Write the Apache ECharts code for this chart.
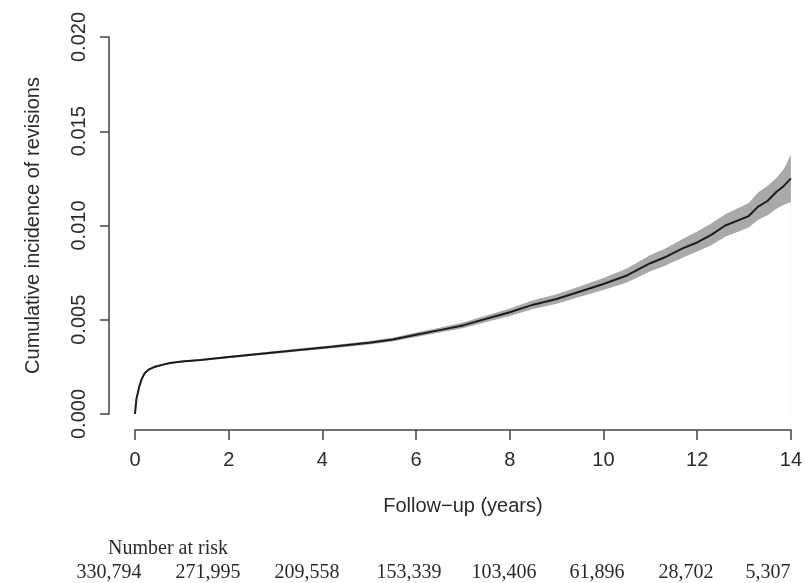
<!DOCTYPE html>
<html>
<head>
<meta charset="utf-8">
<script src="https://cdn.jsdelivr.net/npm/echarts@6/dist/echarts.min.js"></script>
<style>
  html, body { margin: 0; padding: 0; background: #fff; }
  #chart { width: 805px; height: 583px; }
</style>
</head>
<body>
<div id="chart"></div>
<script>
// follow-up time (years) and cumulative incidence
const years = [0, 0.03, 0.09, 0.15, 0.21, 0.3, 0.43, 0.6, 0.75, 1.0, 1.4, 2.0, 2.8, 3.5, 4.2, 5.0, 5.5, 6.0, 6.5, 7.0,
  7.5, 8.0, 8.5, 9.0, 9.5, 10.0, 10.5, 11.0, 11.3, 11.7, 12.0, 12.3, 12.6, 12.9, 13.1, 13.3, 13.5, 13.7, 13.85, 14.0];
const incidence = [0, 0.0008, 0.00145, 0.0019, 0.00218, 0.00237, 0.00251, 0.00262, 0.00271, 0.00278, 0.00287, 0.00302,
  0.00322, 0.0034, 0.00357, 0.00378, 0.00395, 0.0042, 0.00445, 0.0047, 0.00505, 0.0054, 0.0058, 0.0061, 0.0065, 0.0069,
  0.00735, 0.0080, 0.0083, 0.0088, 0.0091, 0.0095, 0.0100, 0.0103, 0.0105, 0.0110, 0.0113, 0.0118, 0.0121, 0.0125];
// confidence band
const lowerCI = [0, 0.0007, 0.0014, 0.00185, 0.00213, 0.00232, 0.00246, 0.00257, 0.00266, 0.00273, 0.00282, 0.00296,
  0.00315, 0.00333, 0.00349, 0.00369, 0.00385, 0.00408, 0.00432, 0.00455, 0.00488, 0.0052, 0.00557, 0.00585, 0.00622,
  0.00658, 0.00698, 0.00757, 0.00785, 0.0083, 0.00862, 0.00895, 0.0094, 0.0097, 0.0099, 0.0103, 0.01055, 0.0109, 0.0111, 0.01125];
const upperCI = [0, 0.0009, 0.0015, 0.00195, 0.00223, 0.00242, 0.00256, 0.00267, 0.00276, 0.00283, 0.00292, 0.00308,
  0.00329, 0.00347, 0.00365, 0.00387, 0.00405, 0.00432, 0.00458, 0.00485, 0.00522, 0.0056, 0.00603, 0.00635, 0.00678,
  0.00722, 0.00772, 0.00843, 0.00875, 0.0093, 0.00968, 0.0101, 0.0106, 0.01095, 0.0112, 0.01175, 0.0121, 0.01255, 0.013, 0.01375];

const riskCounts = ['330,794', '271,995', '209,558', '153,339', '103,406', '61,896', '28,702', '5,307'];
const riskX = [109, 208, 307, 409, 504, 597, 686, 768];

const textColor = '#2a2a2a';
const axisColor = '#444';

const chart = echarts.init(document.getElementById('chart'));

function label(txt, x, y) {
    return {
        type: 'text',
        x: x,
        y: y,
        style: {
            text: txt,
            align: 'center',
            verticalAlign: 'middle',
            fill: textColor,
            font: '20px "Liberation Serif"'
        }
    };
}

chart.setOption({
    backgroundColor: '#fff',
    animation: false,
    grid: { left: 135, right: 14, top: 37, bottom: 169 },
    xAxis: {
        type: 'value',
        min: 0,
        max: 14,
        interval: 2,
        offset: 16,
        name: 'Follow\u2212up (years)',
        nameLocation: 'middle',
        nameGap: 66,
        nameTextStyle: { color: textColor, fontSize: 20, fontFamily: 'Liberation Sans' },
        axisLine: { show: true, onZero: false, lineStyle: { color: axisColor, width: 1.5 } },
        axisTick: { show: true, length: 10, lineStyle: { color: axisColor, width: 1.5 } },
        axisLabel: { color: textColor, fontSize: 20, fontFamily: 'Liberation Sans', margin: 20 },
        splitLine: { show: false }
    },
    yAxis: {
        type: 'value',
        min: 0,
        max: 0.02,
        interval: 0.005,
        offset: 26,
        name: 'Cumulative incidence of revisions',
        nameLocation: 'middle',
        nameGap: 66,
        nameTextStyle: { color: textColor, fontSize: 20, fontFamily: 'Liberation Sans' },
        axisLine: { show: true, onZero: false, lineStyle: { color: axisColor, width: 1.5 } },
        axisTick: { show: true, length: 9, lineStyle: { color: axisColor, width: 1.5 } },
        axisLabel: {
            color: textColor, fontSize: 20, fontFamily: 'Liberation Sans', margin: 20, rotate: 90,
            formatter: v => v.toFixed(3)
        },
        splitLine: { show: false }
    },
    graphic: [label('Number at risk', 168, 549)]
        .concat(riskCounts.map((txt, i) => label(txt, riskX[i], 573))),
    series: [
        {
            // grey fill under the upper bound
            name: 'upper',
            type: 'line',
            data: years.map((t, i) => [t, upperCI[i]]),
            symbol: 'none',
            lineStyle: { width: 0, opacity: 0 },
            areaStyle: { color: '#a9a9a9', opacity: 1, origin: 'start' },
            silent: true,
            z: 1
        },
        {
            // white fill under the lower bound cuts the band out
            name: 'lower',
            type: 'line',
            data: years.map((t, i) => [t, lowerCI[i]]),
            symbol: 'none',
            lineStyle: { width: 0, opacity: 0 },
            areaStyle: { color: '#fff', opacity: 1, origin: 'start' },
            silent: true,
            z: 2
        },
        {
            name: 'incidence',
            type: 'line',
            data: years.map((t, i) => [t, incidence[i]]),
            symbol: 'none',
            lineStyle: { color: '#1c1c1c', width: 2 },
            z: 3
        }
    ]
});
</script>
</body>
</html>
